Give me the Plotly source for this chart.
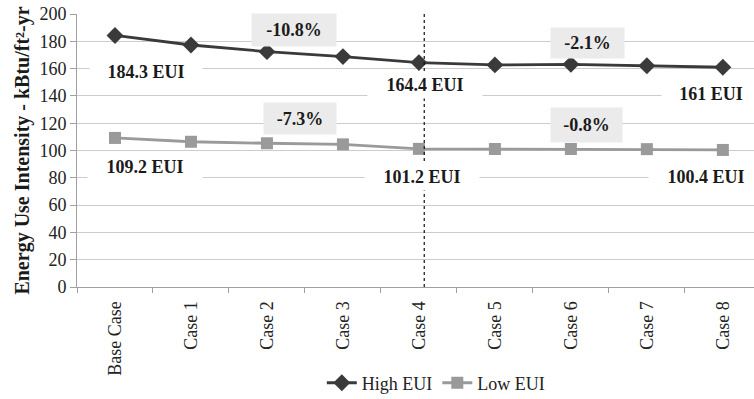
import plotly.graph_objects as go

# Scenario categories and energy use intensity (kBtu/ft²-yr)
cases = ["Base Case", "Case 1", "Case 2", "Case 3", "Case 4",
         "Case 5", "Case 6", "Case 7", "Case 8"]
high_eui = [184.3, 177.3, 172.4, 168.8, 164.4, 162.7, 163.1, 162.1, 161]
low_eui = [109.2, 106.4, 105.3, 104.5, 101.2, 101.1, 101.1, 101.0, 100.4]
y_ticks = [0, 20, 40, 60, 80, 100, 120, 140, 160, 180, 200]

FONT = "Liberation Serif, Times New Roman, serif"
DARK = "#3a3a3a"
LIGHT = "#9a9a9a"


def fmt_eui(v):
    return f"{v:g} EUI"


def pct(a, b):
    return f"{(b - a) / a * 100:.1f}%"


fig = go.Figure()
fig.add_trace(go.Scatter(
    x=cases, y=high_eui, name="High EUI", mode="lines+markers",
    line=dict(color=DARK, width=2.8),
    marker=dict(symbol="diamond", size=13, color=DARK),
))
fig.add_trace(go.Scatter(
    x=cases, y=low_eui, name="Low EUI", mode="lines+markers",
    line=dict(color=LIGHT, width=2.8),
    marker=dict(symbol="square", size=12, color=LIGHT),
))

# Boundary between the two phases of measures
fig.add_shape(type="line", xref="x", yref="y", x0=4.07, x1=4.07, y0=0, y1=201,
              line=dict(color="#111111", width=1.2, dash="dot"))

bold = dict(family=FONT, size=18, color="#1a1a1a")


def value_label(x, y, text, w):
    fig.add_annotation(x=x, y=y, xref="x", yref="y", text=f"<b>{text}</b>",
                       showarrow=False, font=bold, bgcolor="white",
                       width=w, height=24)


def change_label(x, y, text, w, h):
    fig.add_annotation(x=x, y=y, xref="x", yref="y", text=f"<b>{text}</b>",
                       showarrow=False, font=bold, bgcolor="#ebebeb",
                       width=w, height=h)


value_label(0.41, 157.5, fmt_eui(high_eui[0]), 110)
value_label(0.39, 87.9, fmt_eui(low_eui[0]), 112)
value_label(4.08, 148.0, fmt_eui(high_eui[4]), 112)
value_label(4.04, 80.6, fmt_eui(low_eui[4]), 112)
value_label(7.85, 141.4, fmt_eui(high_eui[8]), 96)
value_label(7.78, 80.6, fmt_eui(low_eui[8]), 112)

change_label(2.36, 188.3, pct(high_eui[0], high_eui[4]), 82, 30)
change_label(2.43, 123.8, pct(low_eui[0], low_eui[4]), 70, 29)
change_label(6.22, 178.8, pct(high_eui[4], high_eui[8]), 71, 28)
change_label(6.21, 118.7, pct(low_eui[4], low_eui[8]), 69, 32)

fig.update_layout(
    width=754, height=399,
    margin=dict(l=77, r=0, t=14, b=112, autoexpand=False),
    paper_bgcolor="white", plot_bgcolor="white",
    font=dict(family=FONT, size=18, color="#222222"),
    showlegend=True,
    legend=dict(orientation="h", x=0.53, xanchor="center",
                yref="container", y=0.04, yanchor="middle",
                font=dict(family=FONT, size=18, color="#222222"),
                bgcolor="rgba(0,0,0,0)"),
    xaxis=dict(
        type="category", range=[-0.5, 8.41], tickangle=-90,
        showline=True, linecolor="#a0a0a0", linewidth=1,
        ticks="outside", tickson="boundaries", ticklen=5, tickcolor="#a0a0a0",
        showgrid=False, tickfont=dict(family=FONT, size=18, color="#222222"),
        ticklabelstandoff=6,
    ),
    yaxis=dict(
        range=[0, 200], tickvals=y_ticks, showgrid=True, gridcolor="#cccccc",
        gridwidth=1, zeroline=False, showline=True, linecolor="#a0a0a0",
        ticks="outside", ticklen=6, tickcolor="#a0a0a0",
        tickfont=dict(family=FONT, size=18, color="#222222"),
        title=dict(text="<b>Energy Use Intensity - kBtu/ft²-yr</b>",
                   font=dict(family=FONT, size=20, color="#1a1a1a"), standoff=4),
    ),
)

fig.write_html("out.html")
